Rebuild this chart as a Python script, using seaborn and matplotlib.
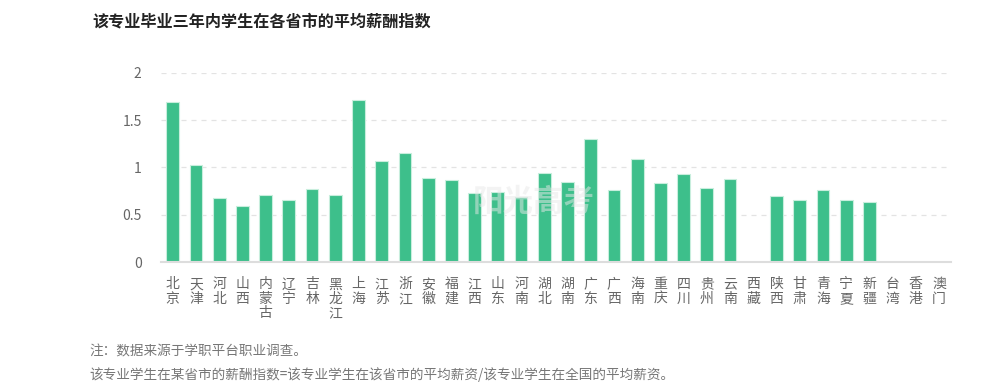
import numpy as np
import pandas as pd
import matplotlib
matplotlib.use('Agg')
import matplotlib.pyplot as plt
import seaborn as sns

provinces = ['北京', '天津', '河北', '山西', '内蒙古', '辽宁', '吉林', '黑龙江', '上海', '江苏',
             '浙江', '安徽', '福建', '江西', '山东', '河南', '湖北', '湖南', '广东', '广西',
             '海南', '重庆', '四川', '贵州', '云南', '西藏', '陕西', '甘肃', '青海', '宁夏',
             '新疆', '台湾', '香港', '澳门']
salary_index = [1.69, 1.02, 0.68, 0.59, 0.71, 0.65, 0.77, 0.71, 1.71, 1.07,
                1.15, 0.89, 0.87, 0.73, 0.74, 0.69, 0.94, 0.85, 1.30, 0.76,
                1.09, 0.83, 0.93, 0.78, 0.88, np.nan, 0.70, 0.66, 0.76, 0.66,
                0.63, np.nan, np.nan, np.nan]
y_ticks = [0, 0.5, 1, 1.5, 2]
y_tick_labels = ['0', '0.5', '1', '1.5', '2']

title = '该专业毕业三年内学生在各省市的平均薪酬指数'
note1 = '注：数据来源于学职平台职业调查。'
note2 = '该专业学生在某省市的薪酬指数=该专业学生在该省市的平均薪资/该专业学生在全国的平均薪资。'

sns.set_style('white')
plt.rcParams['font.family'] = ['Noto Sans CJK SC', 'DejaVu Sans']

df = pd.DataFrame({'province': provinces, 'value': salary_index})

fig = plt.figure(figsize=(10.07, 3.88), dpi=100)
ax = fig.add_axes([0.160, 0.3247, 0.784, 0.4879])

sns.barplot(data=df, x='province', y='value', order=provinces, color='#3dbf8b',
            saturation=1, width=0.55, edgecolor='#c8eedd', linewidth=0.8, ax=ax)

ax.set_ylim(0, 2)
ax.set_xlim(-0.5, len(provinces) - 0.5)
ax.set_yticks(y_ticks)
ax.set_yticklabels(y_tick_labels, fontsize=10, color='#666666')
ax.yaxis.grid(True, linestyle=(0, (4, 4)), color='#e3e3e3', linewidth=0.9)
ax.set_axisbelow(True)

ax.set_xticks(range(len(provinces)))
ax.set_xticklabels(['\n'.join(p) for p in provinces], fontsize=10, color='#666666',
                   linespacing=1.05, va='top')
ax.set_xticks(np.arange(len(provinces) + 1) - 0.5, minor=True)
ax.tick_params(axis='x', which='major', length=0, pad=11)
ax.tick_params(axis='x', which='minor', length=4, color='#cccccc', width=1)
ax.tick_params(axis='y', length=0, pad=14)
ax.set_xlabel('')
ax.set_ylabel('')

for side in ['top', 'right', 'left']:
    ax.spines[side].set_visible(False)
ax.spines['bottom'].set_color('#dddddd')
ax.spines['bottom'].set_linewidth(1.5)

# faint watermark
fig.text(0.53, 0.48, '阳光高考', fontsize=22, color='#e8e8e8', alpha=0.5,
         style='italic', fontweight='bold', ha='center', va='center')

fig.text(0.092, 0.945, title, fontsize=11.6, fontweight='bold', color='#222222',
         ha='left', va='center')
fig.text(0.089, 0.093, note1, fontsize=9.8, color='#777777', ha='left', va='center')
fig.text(0.089, 0.035, note2, fontsize=9.8, color='#777777', ha='left', va='center')

fig.savefig('out.png', dpi=100)
